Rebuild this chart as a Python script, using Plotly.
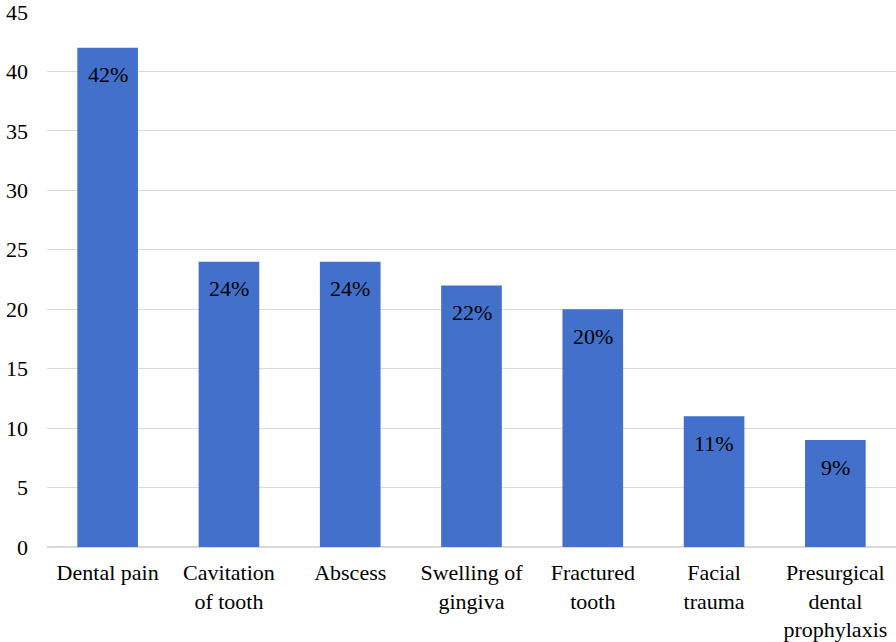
import plotly.graph_objects as go

categories = ["Dental pain", "Cavitation<br>of tooth", "Abscess", "Swelling of<br>gingiva",
              "Fractured<br>tooth", "Facial<br>trauma", "Presurgical<br>dental<br>prophylaxis"]
values = [42, 24, 24, 22, 20, 11, 9]
labels = ["42%", "24%", "24%", "22%", "20%", "11%", "9%"]
yticks = [0, 5, 10, 15, 20, 25, 30, 35, 40, 45]

font = "'Liberation Serif', 'DejaVu Serif', serif"

fig = go.Figure()
fig.add_trace(go.Bar(
    x=categories, y=values,
    marker=dict(color="#4270CA", line=dict(width=0)),
    hoverinfo="skip",
))

for c, v, t in zip(categories, values, labels):
    fig.add_annotation(x=c, y=v, text=t, showarrow=False, yanchor="middle",
                       yshift=-27, font=dict(family=font, size=22, color="black"))

fig.update_layout(
    width=896, height=642,
    margin=dict(l=47, r=0, t=12, b=95),
    paper_bgcolor="white", plot_bgcolor="white",
    bargap=0.5,
    showlegend=False,
    font=dict(family=font, size=21, color="black"),
)
fig.update_xaxes(showgrid=False, showline=False, ticks="", tickfont=dict(family=font, size=22),
                 ticklabelstandoff=10)
fig.update_yaxes(range=[0, 45], tickvals=yticks, showgrid=True, gridcolor="#D9D9D9",
                 gridwidth=1, zeroline=True, zerolinecolor="#D9D9D9", showline=False,
                 ticks="", tickfont=dict(family=font, size=22), ticklabelstandoff=18,
                 ticklabeloverflow="allow")

fig.write_html("out.html", config={"displayModeBar": False},
               post_script="document.body.style.margin='0';document.body.style.overflow='hidden';")
